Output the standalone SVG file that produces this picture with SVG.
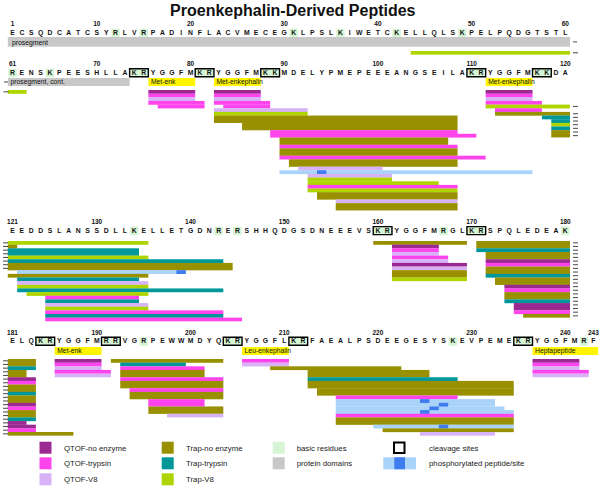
<svg xmlns="http://www.w3.org/2000/svg" width="604" height="489" viewBox="0 0 604 489">
<style>
text{font-family:"Liberation Sans",Arial,sans-serif;fill:#111}
.title{font-size:16px;font-weight:bold;text-anchor:middle}
.seq{font-size:6.8px;font-weight:bold;text-anchor:middle}
.num{font-size:6.5px;font-weight:bold;text-anchor:middle}
.lab{font-size:6.8px}
.leg{font-size:7.8px;fill:#222}
.p1{fill:#9A2A91}.p2{fill:#FF44EE}.p3{fill:#D8B2F6}
.o{fill:#999000}.tl{fill:#00979B}.g{fill:#AED500}
.lb{fill:#A9D3F9}.db{fill:#3E7CF0}
.bas{fill:#D5F5D5}.dom{fill:#C8C8C8}.yl{fill:#FFF500}
.box{fill:none;stroke:#000;stroke-width:1.4}
.tk{stroke:#333;stroke-width:0.9;fill:none}
</style>

<text class="title" x="292.8" y="15.5">Proenkephalin-Derived Peptides</text>

<!-- ============ ROW 1 : residues 1-60 ============ -->
<g id="row1">
  <g transform="translate(7.8 0) scale(9.37 1)">
    <rect class="bas" x="11.05" y="28.7" width="0.9" height="8.5"/>
    <rect class="bas" x="14.05" y="28.7" width="0.9" height="8.5"/>
    <rect class="bas" x="30.05" y="28.7" width="0.9" height="8.5"/>
    <rect class="bas" x="35.05" y="28.7" width="0.9" height="8.5"/>
    <rect class="bas" x="41.05" y="28.7" width="0.9" height="8.5"/>
    <rect class="bas" x="48.05" y="28.7" width="0.9" height="8.5"/>
    <rect class="dom" x="0" y="37" width="60" height="9.7"/>
  </g>
  <text class="num" x="12.5" y="26.3">1</text>
  <text class="num" x="96.83" y="26.3">10</text>
  <text class="num" x="190.53" y="26.3">20</text>
  <text class="num" x="284.23" y="26.3">30</text>
  <text class="num" x="377.93" y="26.3">40</text>
  <text class="num" x="471.63" y="26.3">50</text>
  <text class="num" x="565.33" y="26.3">60</text>
  <text class="seq" y="34.7" x="12.5 21.87 31.24 40.61 49.98 59.35 68.72 78.09 87.46 96.83 106.2 115.57 124.94 134.31 143.68 153.05 162.42 171.79 181.16 190.53 199.9 209.27 218.64 228.01 237.38 246.75 256.12 265.49 274.86 284.23 293.6 302.97 312.34 321.71 331.08 340.45 349.82 359.19 368.56 377.93 387.3 396.67 406.04 415.41 424.78 434.15 443.52 452.89 462.26 471.63 481 490.37 499.74 509.11 518.48 527.85 537.22 546.59 555.96 565.33">ECSQDCATCSYRLVRPADINFLACVMECEGKLPSLKIWETCKELLQLSKPELPQDGTSTL</text>
  <text class="lab" x="12" y="44.5">prosegment</text>
  <g transform="translate(7.8 51) scale(9.37 3.65)">
    <rect class="g" x="43" y="0" width="17" height="1"/>
  </g>
</g>

<!-- ============ ROW 2 : residues 61-120 ============ -->
<g id="row2">
  <g transform="translate(7.8 0) scale(9.37 1)">
    <rect class="bas" x="0.05" y="68.7" width="0.9" height="8.5"/>
    <rect class="bas" x="4.05" y="68.7" width="0.9" height="8.5"/>
    <rect class="bas" x="13" y="68.7" width="2" height="8"/>
    <rect class="bas" x="20" y="68.7" width="2" height="8"/>
    <rect class="bas" x="27" y="68.7" width="2" height="8"/>
    <rect class="bas" x="49" y="68.7" width="2" height="8"/>
    <rect class="bas" x="56" y="68.7" width="2" height="8"/>
    <rect class="box" vector-effect="non-scaling-stroke" x="13" y="68.7" width="2" height="8"/>
    <rect class="box" vector-effect="non-scaling-stroke" x="20" y="68.7" width="2" height="8"/>
    <rect class="box" vector-effect="non-scaling-stroke" x="27" y="68.7" width="2" height="8"/>
    <rect class="box" vector-effect="non-scaling-stroke" x="49" y="68.7" width="2" height="8"/>
    <rect class="box" vector-effect="non-scaling-stroke" x="56" y="68.7" width="2" height="8"/>
    <rect class="dom" x="0" y="78" width="13" height="8"/>
    <rect class="yl" x="15" y="78" width="5" height="8"/>
    <rect class="yl" x="22" y="78" width="5" height="8"/>
    <rect class="yl" x="51" y="78" width="5" height="8"/>
  </g>
  <text class="num" x="12.5" y="66">61</text>
  <text class="num" x="96.83" y="66">70</text>
  <text class="num" x="190.53" y="66">80</text>
  <text class="num" x="284.23" y="66">90</text>
  <text class="num" x="377.93" y="66">100</text>
  <text class="num" x="471.63" y="66">110</text>
  <text class="num" x="565.33" y="66">120</text>
  <text class="seq" y="74.7" x="12.5 21.87 31.24 40.61 49.98 59.35 68.72 78.09 87.46 96.83 106.2 115.57 124.94 134.31 143.68 153.05 162.42 171.79 181.16 190.53 199.9 209.27 218.64 228.01 237.38 246.75 256.12 265.49 274.86 284.23 293.6 302.97 312.34 321.71 331.08 340.45 349.82 359.19 368.56 377.93 387.3 396.67 406.04 415.41 424.78 434.15 443.52 452.89 462.26 471.63 481 490.37 499.74 509.11 518.48 527.85 537.22 546.59 555.96 565.33">RENSKPEESHLLAKRYGGFMKRYGGFMKKMDELYPMEPEEEANGSEILAKRYGGFMKKDA</text>
  <text class="lab" x="10.5" y="84.2">prosegment, cont.</text>
  <text class="lab" x="150.9" y="84.2">Met-enk</text>
  <text class="lab" x="216.4" y="84.2">Met-enkephalin</text>
  <text class="lab" x="488.2" y="84.2">Met-enkephalin</text>
  <g transform="translate(7.8 90) scale(9.37 3.65)">
    <rect class="g" x="0" y="0" width="2" height="1.04"/>
    <rect class="p1" x="15" y="0" width="5" height="1.04"/>
    <rect class="p2" x="15" y="1" width="5" height="1.04"/>
    <rect class="p3" x="15" y="2" width="5" height="1.04"/>
    <rect class="p2" x="15" y="3" width="6" height="1.04"/>
    <rect class="p2" x="16" y="4" width="5" height="1.04"/>
    <rect class="p1" x="22" y="0" width="5" height="1.04"/>
    <rect class="p2" x="22" y="1" width="5" height="1.04"/>
    <rect class="p3" x="22" y="2" width="5" height="1.04"/>
    <rect class="p2" x="22" y="3" width="6" height="1.04"/>
    <rect class="p2" x="23" y="4" width="5" height="1.04"/>
    <rect class="p3" x="22" y="5" width="10" height="1.04"/>
    <rect class="g" x="22" y="6" width="10" height="1.04"/>
    <rect class="o" x="22" y="7" width="26" height="2.04"/>
    <rect class="o" x="25" y="9" width="23" height="2.04"/>
    <rect class="p2" x="28" y="11" width="20" height="1.04"/>
    <rect class="p2" x="28" y="12" width="22" height="1.04"/>
    <rect class="o" x="29" y="13" width="18" height="2.04"/>
    <rect class="p2" x="29" y="15" width="19" height="1.04"/>
    <rect class="o" x="29" y="16" width="19" height="2.04"/>
    <rect class="p2" x="29" y="18" width="22" height="1.04"/>
    <rect class="o" x="30" y="19" width="18" height="2.04"/>
    <rect class="p3" x="31" y="21" width="9" height="1.04"/>
    <rect class="lb" x="29" y="22" width="27" height="1.04"/>
    <rect class="db" x="33" y="22" width="1" height="1.04"/>
    <rect class="p3" x="32" y="23" width="9" height="1.04"/>
    <rect class="g" x="32" y="24" width="9" height="1.04"/>
    <rect class="g" x="32" y="25" width="14" height="1.04"/>
    <rect class="p2" x="32" y="26" width="16" height="1.04"/>
    <rect class="g" x="32" y="27" width="16" height="1.04"/>
    <rect class="o" x="33" y="28" width="15" height="2.04"/>
    <rect class="p3" x="35" y="30" width="13" height="1.04"/>
    <rect class="o" x="35" y="31" width="13" height="2"/>
    <rect class="p1" x="51" y="0" width="5" height="1.04"/>
    <rect class="p2" x="51" y="1" width="5" height="1.04"/>
    <rect class="p3" x="51" y="2" width="5" height="1.04"/>
    <rect class="p2" x="51" y="3" width="6" height="1.04"/>
    <rect class="g" x="51" y="4" width="9" height="1.04"/>
    <rect class="p2" x="52" y="5" width="5" height="1.04"/>
    <rect class="o" x="52" y="6" width="8" height="1.04"/>
    <rect class="tl" x="57" y="7" width="3" height="1.04"/>
    <rect class="tl" x="58" y="8" width="2" height="1.04"/>
    <rect class="g" x="58" y="9" width="2" height="1.04"/>
    <rect class="tl" x="58" y="10" width="2" height="1.04"/>
    <rect class="o" x="58" y="11" width="2" height="2"/>
  </g>
</g>

<!-- ============ ROW 3 : residues 121-180 ============ -->
<g id="row3">
  <g transform="translate(7.8 0) scale(9.37 1)">
    <rect class="bas" x="13.05" y="226.6" width="0.9" height="8.5"/>
    <rect class="bas" x="22.05" y="226.6" width="0.9" height="8.5"/>
    <rect class="bas" x="24.05" y="226.6" width="0.9" height="8.5"/>
    <rect class="bas" x="39" y="226.6" width="2" height="8"/>
    <rect class="bas" x="46.05" y="226.6" width="0.9" height="8.5"/>
    <rect class="bas" x="49" y="226.6" width="2" height="8"/>
    <rect class="bas" x="59.05" y="226.6" width="0.9" height="8.5"/>
    <rect class="box" vector-effect="non-scaling-stroke" x="39" y="226.6" width="2" height="8"/>
    <rect class="box" vector-effect="non-scaling-stroke" x="49" y="226.6" width="2" height="8"/>
  </g>
  <text class="num" x="12.5" y="223.6">121</text>
  <text class="num" x="96.83" y="223.6">130</text>
  <text class="num" x="190.53" y="223.6">140</text>
  <text class="num" x="284.23" y="223.6">150</text>
  <text class="num" x="377.93" y="223.6">160</text>
  <text class="num" x="471.63" y="223.6">170</text>
  <text class="num" x="565.33" y="223.6">180</text>
  <text class="seq" y="232.6" x="12.5 21.87 31.24 40.61 49.98 59.35 68.72 78.09 87.46 96.83 106.2 115.57 124.94 134.31 143.68 153.05 162.42 171.79 181.16 190.53 199.9 209.27 218.64 228.01 237.38 246.75 256.12 265.49 274.86 284.23 293.6 302.97 312.34 321.71 331.08 340.45 349.82 359.19 368.56 377.93 387.3 396.67 406.04 415.41 424.78 434.15 443.52 452.89 462.26 471.63 481 490.37 499.74 509.11 518.48 527.85 537.22 546.59 555.96 565.33">EEDDSLANSSDLLKELLETGDNRERSHHQDGSDNEEEVSKRYGGFMRGLKRSPQLEDEAK</text>
  <g transform="translate(7.8 241) scale(9.37 3.65)">
    <rect class="g" x="0" y="0" width="15" height="1.04"/>
    <rect class="o" x="0" y="1" width="1" height="1.04"/>
    <rect class="tl" x="0" y="2" width="14" height="2.04"/>
    <rect class="g" x="0" y="4" width="15" height="1.04"/>
    <rect class="tl" x="0" y="5" width="23" height="1.04"/>
    <rect class="o" x="0" y="6" width="24" height="2.04"/>
    <rect class="lb" x="1" y="8" width="18" height="1.04"/>
    <rect class="db" x="18" y="8" width="1" height="1.04"/>
    <rect class="o" x="0" y="9" width="15" height="1.04"/>
    <rect class="tl" x="1" y="10" width="13" height="1.04"/>
    <rect class="p3" x="1" y="11" width="14" height="1.04"/>
    <rect class="g" x="1" y="12" width="14" height="1.04"/>
    <rect class="tl" x="1" y="13" width="22" height="1.04"/>
    <rect class="g" x="2" y="14" width="13" height="1.04"/>
    <rect class="p2" x="4" y="15" width="10" height="1.04"/>
    <rect class="tl" x="4" y="16" width="10" height="1.04"/>
    <rect class="p3" x="4" y="17" width="11" height="1.04"/>
    <rect class="g" x="4" y="18" width="11" height="1.04"/>
    <rect class="p2" x="4" y="19" width="19" height="1.04"/>
    <rect class="tl" x="4" y="20" width="19" height="1.04"/>
    <rect class="p2" x="4" y="21" width="21" height="1"/>
    <rect class="o" x="39" y="0" width="10" height="1.04"/>
    <rect class="p1" x="41" y="1" width="5" height="1.04"/>
    <rect class="p2" x="41" y="2" width="5" height="1.04"/>
    <rect class="p3" x="41" y="3" width="5" height="1.04"/>
    <rect class="p2" x="41" y="4" width="6" height="1.04"/>
    <rect class="p3" x="41" y="5" width="6" height="1.04"/>
    <rect class="p1" x="41" y="6" width="8" height="1.04"/>
    <rect class="p3" x="41" y="7" width="8" height="1.04"/>
    <rect class="o" x="41" y="8" width="8" height="2.04"/>
    <rect class="g" x="41" y="10" width="8" height="1"/>
    <rect class="o" x="50" y="0" width="10" height="2.04"/>
    <rect class="tl" x="50" y="2" width="10" height="1.04"/>
    <rect class="o" x="51" y="3" width="9" height="2.04"/>
    <rect class="p1" x="51" y="5" width="9" height="1.04"/>
    <rect class="p2" x="51" y="6" width="9" height="1.04"/>
    <rect class="o" x="51" y="7" width="9" height="2.04"/>
    <rect class="tl" x="51" y="9" width="9" height="1.04"/>
    <rect class="o" x="52" y="10" width="8" height="2.04"/>
    <rect class="p1" x="53" y="12" width="7" height="1.04"/>
    <rect class="p2" x="53" y="13" width="7" height="1.04"/>
    <rect class="o" x="53" y="14" width="7" height="2.04"/>
    <rect class="tl" x="53" y="16" width="7" height="1.04"/>
    <rect class="p1" x="54" y="17" width="6" height="2.04"/>
    <rect class="p2" x="54" y="19" width="6" height="1.04"/>
    <rect class="o" x="55" y="20" width="5" height="1"/>
  </g>
</g>

<!-- ============ ROW 4 : residues 181-243 ============ -->
<g id="row4">
  <g transform="translate(7.8 0) scale(9.37 1)">
    <rect class="bas" x="3" y="337.3" width="2" height="8"/>
    <rect class="bas" x="10" y="337.3" width="2" height="8"/>
    <rect class="bas" x="14.05" y="337.3" width="0.9" height="8.5"/>
    <rect class="bas" x="23" y="337.3" width="2" height="8"/>
    <rect class="bas" x="30" y="337.3" width="2" height="8"/>
    <rect class="bas" x="47.05" y="337.3" width="0.9" height="8.5"/>
    <rect class="bas" x="54" y="337.3" width="2" height="8"/>
    <rect class="bas" x="61.05" y="337.3" width="0.9" height="8.5"/>
    <rect class="box" vector-effect="non-scaling-stroke" x="3" y="337.3" width="2" height="8"/>
    <rect class="box" vector-effect="non-scaling-stroke" x="10" y="337.3" width="2" height="8"/>
    <rect class="box" vector-effect="non-scaling-stroke" x="23" y="337.3" width="2" height="8"/>
    <rect class="box" vector-effect="non-scaling-stroke" x="30" y="337.3" width="2" height="8"/>
    <rect class="box" vector-effect="non-scaling-stroke" x="54" y="337.3" width="2" height="8"/>
    <rect class="yl" x="5" y="347" width="5" height="8"/>
    <rect class="yl" x="25" y="347" width="5" height="8"/>
    <rect class="yl" x="56" y="347" width="7" height="8"/>
  </g>
  <text class="num" x="12.5" y="334.5">181</text>
  <text class="num" x="96.83" y="334.5">190</text>
  <text class="num" x="190.53" y="334.5">200</text>
  <text class="num" x="284.23" y="334.5">210</text>
  <text class="num" x="377.93" y="334.5">220</text>
  <text class="num" x="471.63" y="334.5">230</text>
  <text class="num" x="565.33" y="334.5">240</text>
  <text class="num" x="593.44" y="334.5">243</text>
  <text class="seq" y="343.3" x="12.5 21.87 31.24 40.61 49.98 59.35 68.72 78.09 87.46 96.83 106.2 115.57 124.94 134.31 143.68 153.05 162.42 171.79 181.16 190.53 199.9 209.27 218.64 228.01 237.38 246.75 256.12 265.49 274.86 284.23 293.6 302.97 312.34 321.71 331.08 340.45 349.82 359.19 368.56 377.93 387.3 396.67 406.04 415.41 424.78 434.15 443.52 452.89 462.26 471.63 481 490.37 499.74 509.11 518.48 527.85 537.22 546.59 555.96 565.33 574.7 584.07 593.44">ELQKRYGGFMRRVGRPEWWMDYQKRYGGFLKRFAEALPSDEEGESYSKEVPEMEKRYGGFMRF</text>
  <text class="lab" x="57.2" y="353.2">Met-enk</text>
  <text class="lab" x="244.6" y="353.2">Leu-enkephalin</text>
  <text class="lab" x="535" y="353.2">Heptapeptide</text>
  <g transform="translate(7.8 359) scale(9.37 3.65)">
    <rect class="o" x="0" y="0" width="3" height="2.04"/>
    <rect class="tl" x="0" y="2" width="3" height="1.04"/>
    <rect class="o" x="0" y="3" width="2" height="2.04"/>
    <rect class="p1" x="0" y="5" width="3" height="1.04"/>
    <rect class="p2" x="0" y="6" width="3" height="1.04"/>
    <rect class="o" x="0" y="7" width="3" height="2.04"/>
    <rect class="tl" x="0" y="9" width="3" height="1.04"/>
    <rect class="o" x="0" y="10" width="3" height="2.04"/>
    <rect class="p1" x="0" y="12" width="3" height="1.04"/>
    <rect class="p2" x="0" y="13" width="3" height="1.04"/>
    <rect class="o" x="0" y="14" width="3" height="2.04"/>
    <rect class="tl" x="0" y="16" width="3" height="1.04"/>
    <rect class="p1" x="0" y="17" width="2" height="1.04"/>
    <rect class="p1" x="0" y="18" width="3" height="1.04"/>
    <rect class="p2" x="0" y="19" width="3" height="1.04"/>
    <rect class="o" x="0" y="20" width="7" height="1"/>
    <rect class="p1" x="5" y="0" width="5" height="1.04"/>
    <rect class="p2" x="5" y="1" width="5" height="1.04"/>
    <rect class="p3" x="5" y="2" width="5" height="1.04"/>
    <rect class="p2" x="5" y="3" width="6" height="1.04"/>
    <rect class="p3" x="5" y="4" width="6" height="1"/>
    <rect class="o" x="11" y="0" width="12" height="1.04"/>
    <rect class="tl" x="12" y="1" width="7" height="1.04"/>
    <rect class="p2" x="12" y="2" width="9" height="1.04"/>
    <rect class="o" x="12" y="3" width="9" height="2.04"/>
    <rect class="p2" x="12" y="5" width="11" height="1.04"/>
    <rect class="o" x="12" y="6" width="11" height="2.04"/>
    <rect class="p2" x="13" y="8" width="10" height="1.04"/>
    <rect class="o" x="13" y="9" width="10" height="2.04"/>
    <rect class="p2" x="15" y="11" width="6" height="2.04"/>
    <rect class="o" x="15" y="13" width="8" height="2.04"/>
    <rect class="p3" x="17" y="15" width="6" height="1"/>
    <rect class="p2" x="25" y="0" width="5" height="1.04"/>
    <rect class="p3" x="25" y="1" width="5" height="1.04"/>
    <rect class="o" x="28" y="2" width="14" height="1.04"/>
    <rect class="o" x="32" y="3" width="13" height="2.04"/>
    <rect class="tl" x="32" y="5" width="16" height="1.04"/>
    <rect class="o" x="32" y="6" width="22" height="2.04"/>
    <rect class="o" x="33" y="8" width="21" height="2.04"/>
    <rect class="p2" x="35" y="10" width="13" height="1.04"/>
    <rect class="lb" x="35" y="11" width="17" height="2.04"/>
    <rect class="lb" x="35" y="13" width="18" height="1.04"/>
    <rect class="lb" x="35" y="14" width="19" height="1.04"/>
    <rect class="db" x="44" y="11" width="1" height="1.04"/>
    <rect class="db" x="46" y="12" width="1" height="1.04"/>
    <rect class="db" x="45" y="13" width="1" height="1.04"/>
    <rect class="db" x="44" y="14" width="1" height="1.04"/>
    <rect class="p2" x="35" y="15" width="19" height="1.04"/>
    <rect class="o" x="35" y="16" width="19" height="2.04"/>
    <rect class="lb" x="39" y="18" width="15" height="1.04"/>
    <rect class="db" x="46" y="18" width="1" height="1.04"/>
    <rect class="o" x="40" y="19" width="14" height="1.04"/>
    <rect class="p3" x="44" y="20" width="8" height="1"/>
    <rect class="p1" x="56" y="0" width="5" height="1.04"/>
    <rect class="p2" x="56" y="1" width="5" height="1.04"/>
    <rect class="p3" x="56" y="2" width="5" height="1.04"/>
    <rect class="p2" x="56" y="3" width="6" height="1.04"/>
    <rect class="p3" x="56" y="4" width="6" height="1"/>
  </g>
</g>

<!-- continuation ticks -->
<g id="ticks">
  <path class="tk" d="M573 41.9h4M573 52.8h5M4 82h4M3.5 91.8h5M573 106.43h5M573 113.73h5M573 117.38h5M573 121.03h5M573 124.68h5M573 128.33h5M573 131.98h5M573 135.63h5"/>
  <path class="tk" d="M3 242.83h5M3 246.48h5M3 250.13h5M3 253.78h5M3 257.43h5M3 261.08h5M3 264.73h5M3 268.38h5"/>
  <path class="tk" d="M573 242.83h5M573 246.48h5M573 250.13h5M573 253.78h5M573 257.43h5M573 261.08h5M573 264.73h5M573 268.38h5M573 272.03h5M573 275.68h5M573 279.33h5M573 282.98h5M573 286.63h5M573 290.28h5M573 293.93h5M573 297.58h5M573 301.23h5M573 304.88h5M573 308.53h5M573 312.18h5M573 315.83h5"/>
  <path class="tk" d="M3 360.83h5M3 364.48h5M3 368.13h5M3 371.78h5M3 375.43h5M3 379.08h5M3 382.73h5M3 386.38h5M3 390.03h5M3 393.68h5M3 397.33h5M3 400.98h5M3 404.63h5M3 408.28h5M3 411.93h5M3 415.58h5M3 419.23h5M3 422.88h5M3 426.53h5M3 430.18h5M3 433.83h5"/>
</g>

<!-- legend -->
<g id="legend">
  <g id="leg-qtof-no"><rect class="p1" x="39.5" y="441.7" width="12" height="12"/><text class="leg" x="64" y="450.7">QTOF-no enzyme</text></g>
  <g id="leg-qtof-tryp"><rect class="p2" x="39.5" y="457.3" width="12" height="12"/><text class="leg" x="64" y="466.3">QTOF-trypsin</text></g>
  <g id="leg-qtof-v8"><rect class="p3" x="39.5" y="473.3" width="12" height="12"/><text class="leg" x="64" y="482.3">QTOF-V8</text></g>
  <g id="leg-trap-no"><rect class="o" x="161.7" y="441.7" width="12" height="12"/><text class="leg" x="186" y="450.7">Trap-no enzyme</text></g>
  <g id="leg-trap-tryp"><rect class="tl" x="161.7" y="457.3" width="12" height="12"/><text class="leg" x="186" y="466.3">Trap-trypsin</text></g>
  <g id="leg-trap-v8"><rect class="g" x="161.7" y="473.3" width="12" height="12"/><text class="leg" x="186" y="482.3">Trap-V8</text></g>
  <g id="leg-basic"><rect class="bas" x="272.7" y="441.7" width="12" height="12"/><text class="leg" x="296.7" y="450.7">basic residues</text></g>
  <g id="leg-domain"><rect class="dom" x="272.7" y="457.3" width="12" height="12"/><text class="leg" x="296.7" y="466.3">protein domains</text></g>
  <g id="leg-cleave"><rect x="394" y="442.5" width="10.5" height="10.5" fill="none" stroke="#000" stroke-width="2"/><text class="leg" x="429" y="450.7">cleavage sites</text></g>
  <g id="leg-phospho"><rect class="lb" x="383.3" y="457.3" width="32.7" height="12"/><rect class="db" x="394.3" y="457.3" width="10.7" height="12"/><text class="leg" x="429" y="466.3">phosphorylated peptide/site</text></g>
</g>
</svg>
